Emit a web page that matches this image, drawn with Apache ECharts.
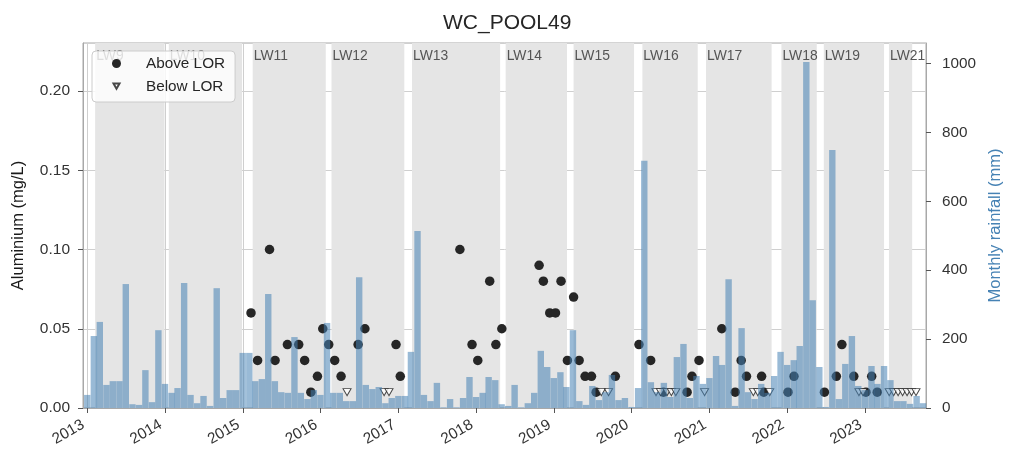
<!DOCTYPE html>
<html>
<head>
<meta charset="utf-8">
<script src="https://cdn.jsdelivr.net/npm/echarts@6/dist/echarts.min.js"></script>
<style>
  html, body { margin: 0; padding: 0; background: #ffffff; }
  #chart { width: 1026px; height: 454px; }
</style>
</head>
<body>
<div id="chart"></div>
<script>
// Monthly rainfall (mm), one value per month starting December 2012; each bar sits on its month's last day
const firstRainMonth = [2012, 12];
const rainfall = [
  38,
  209, 250, 67, 78, 78, 360, 11, 9, 110, 17, 226, 70,      // 2013
  44, 58, 363, 38, 14, 35, 6, 348, 29, 52, 52, 160,        // 2014
  160, 78, 84, 331, 78, 46, 44, 206, 44, 26, 52, 38,       // 2015
  247, 44, 44, 20, 20, 380, 67, 55, 61, 14, 29, 35,        // 2016
  35, 163, 514, 38, 20, 73, 2, 26, 2, 29, 90, 32,          // 2017
  44, 90, 81, 11, 6, 67, 2, 14, 44, 166, 119, 87,          // 2018
  104, 61, 226, 20, 9, 64, 23, 46, 96, 23, 29, 3,          // 2019
  58, 718, 75, 46, 73, 32, 148, 186, 29, 93, 70, 87,       // 2020
  151, 125, 374, 6, 232, 46, 26, 70, 44, 93, 163, 125,     // 2021
  139, 180, 1005, 313, 119, 3, 749, 26, 128, 209, 64, 52,  // 2022
  122, 70, 122, 81, 20, 20, 12, 35, 14                     // 2023
];

// Aluminium samples above the limit of reporting: [sample date, mg/L]
const aboveLOR = [
  ['2015-02-08', 0.06], ['2015-03-11', 0.03], ['2015-05-06', 0.10], ['2015-06-01', 0.03],
  ['2015-07-29', 0.04], ['2015-09-20', 0.04], ['2015-10-18', 0.03], ['2015-11-16', 0.01],
  ['2015-12-17', 0.02], ['2016-01-11', 0.05], ['2016-02-08', 0.04], ['2016-03-07', 0.03],
  ['2016-04-06', 0.02], ['2016-06-25', 0.04], ['2016-07-27', 0.05], ['2016-12-20', 0.04],
  ['2017-01-09', 0.02], ['2017-10-16', 0.10], ['2017-12-12', 0.04], ['2018-01-08', 0.03],
  ['2018-03-05', 0.08], ['2018-04-03', 0.04], ['2018-05-01', 0.05], ['2018-10-23', 0.09],
  ['2018-11-12', 0.08], ['2018-12-12', 0.06], ['2019-01-08', 0.06], ['2019-02-03', 0.08],
  ['2019-03-05', 0.03], ['2019-04-03', 0.07], ['2019-04-29', 0.03], ['2019-05-27', 0.02],
  ['2019-06-26', 0.02], ['2019-07-18', 0.01], ['2019-10-16', 0.02], ['2020-02-04', 0.04],
  ['2020-03-30', 0.03], ['2020-05-29', 0.01], ['2020-09-17', 0.01], ['2020-10-10', 0.02],
  ['2020-11-12', 0.03], ['2021-02-27', 0.05], ['2021-05-01', 0.01], ['2021-05-29', 0.03],
  ['2021-06-23', 0.02], ['2021-09-02', 0.02], ['2021-09-12', 0.01], ['2022-01-04', 0.01],
  ['2022-02-01', 0.02], ['2022-06-24', 0.01], ['2022-08-19', 0.02], ['2022-09-14', 0.04],
  ['2022-11-09', 0.02], ['2023-01-05', 0.01], ['2023-02-01', 0.02], ['2023-02-27', 0.01]
];

// Samples below the limit of reporting, plotted at the LOR: [sample date, mg/L]
const belowLOR = [
  ['2016-05-04', 0.01], ['2016-10-25', 0.01], ['2016-11-17', 0.01], ['2019-08-11', 0.01],
  ['2019-09-14', 0.01], ['2020-04-24', 0.01], ['2020-05-15', 0.01], ['2020-06-15', 0.01],
  ['2020-07-05', 0.01], ['2020-07-26', 0.01], ['2020-12-08', 0.01], ['2021-07-25', 0.01],
  ['2021-08-15', 0.01], ['2021-10-10', 0.01], ['2022-12-03', 0.01], ['2022-12-22', 0.01],
  ['2023-04-24', 0.01], ['2023-05-15', 0.01], ['2023-06-05', 0.01], ['2023-06-26', 0.01],
  ['2023-07-17', 0.01], ['2023-08-07', 0.01], ['2023-08-28', 0.01]
];

// Longwall extraction periods
const longwallNames  = ['LW9', 'LW10', 'LW11', 'LW12', 'LW13', 'LW14', 'LW15', 'LW16', 'LW17', 'LW18', 'LW19', 'LW21'];
const longwallStarts = ['2013-02-06', '2014-01-18', '2015-02-16', '2016-02-21', '2017-03-05', '2018-05-19',
                        '2019-04-03', '2020-02-20', '2020-12-15', '2021-12-04', '2022-06-21', '2023-04-23'];
const longwallEnds   = ['2013-12-29', '2014-12-28', '2016-01-25', '2017-01-28', '2018-04-23', '2019-03-03',
                        '2020-01-12', '2020-11-06', '2021-10-19', '2022-05-19', '2023-03-31', '2023-08-10'];

// Axis ranges and ticks
const xStart = '2012-12-26';
const xEnd = '2023-09-29';
const alMax = 0.2303, alStep = 0.05;
const rainMax = 1060, rainStep = 200;

const FONT = '"Liberation Sans", Arial, Helvetica, sans-serif';
const DAY = 24 * 3600 * 1000;

function pad(n) { return (n < 10 ? '0' : '') + n; }
function monthEnd(year, month) {
  const d = new Date(year, month, 0);
  return d.getFullYear() + '-' + pad(d.getMonth() + 1) + '-' + pad(d.getDate());
}
const rainData = rainfall.map(function (v, i) {
  const mIndex = firstRainMonth[1] - 1 + i;
  const y = firstRainMonth[0] + Math.floor(mIndex / 12);
  const m = (mIndex % 12) + 1;
  return [monthEnd(y, m), v];
});

const spanData = longwallNames.map(function (name, i) {
  return [{ name: name, xAxis: longwallStarts[i] }, { xAxis: longwallEnds[i] }];
});

const chart = echarts.init(document.getElementById('chart'), null, { renderer: 'canvas' });

chart.setOption({
  animation: false,
  backgroundColor: '#ffffff',
  textStyle: { fontFamily: FONT },
  title: {
    text: 'WC_POOL49',
    left: 438,
    top: 8,
    textStyle: { fontFamily: FONT, fontSize: 21, fontWeight: 'normal', color: '#262626' }
  },
  legend: {
    data: [
      { name: 'Above LOR', icon: 'circle' },
      // down-pointing triangle, padded by two empty sub-paths so the glyph stays small
      { name: 'Below LOR', icon: 'path://M-2,-2 L-2,-2 M0,0 L8,0 L4,7 Z M10,10 L10,10' }
    ],
    orient: 'vertical',
    left: 92,
    top: 51,
    padding: [5, 10, 8, 19],
    itemGap: 8,
    itemWidth: 9,
    itemHeight: 9,
    backgroundColor: 'rgba(255,255,255,0.8)',
    borderColor: '#cccccc',
    borderWidth: 1,
    borderRadius: 4,
    textStyle: { fontFamily: FONT, fontSize: 15.3, color: '#262626', padding: [0, 0, 0, 20] }
  },
  grid: {
    left: 83, right: 100, top: 43, bottom: 46,
    show: true, borderColor: '#a8a8a8', borderWidth: 1, backgroundColor: 'transparent'
  },
  xAxis: {
    type: 'time',
    min: xStart,
    max: xEnd,
    z: 1,
    minInterval: 365 * DAY,
    maxInterval: 366 * DAY,
    axisLine: { show: true, lineStyle: { color: '#a8a8a8' } },
    axisTick: { show: true, length: 5, lineStyle: { color: '#555555' } },
    axisLabel: {
      rotate: 30,
      margin: 13,
      padding: [0, 5, 0, 0],
      fontSize: 15.3,
      color: '#333333',
      fontFamily: FONT,
      showMinLabel: false,
      showMaxLabel: false,
      formatter: function (val) { return String(new Date(val).getFullYear()); }
    },
    splitLine: { show: true, lineStyle: { color: '#cfcfcf', width: 1 } }
  },
  yAxis: [
    {
      type: 'value',
      position: 'left',
      min: 0,
      max: alMax,
      interval: alStep,
      z: 1,
      name: 'Aluminium (mg/L)',
      nameLocation: 'middle',
      nameGap: 56,
      nameRotate: 90,
      nameTextStyle: { fontFamily: FONT, fontSize: 16.5, color: '#1a1a1a' },
      axisLine: { show: true, lineStyle: { color: '#a8a8a8' } },
      axisTick: { show: true, length: 5, lineStyle: { color: '#555555' } },
      axisLabel: {
        fontSize: 15.5, color: '#333333', fontFamily: FONT, margin: 13, showMaxLabel: false,
        formatter: function (v) { return v.toFixed(2); }
      },
      splitLine: { show: true, lineStyle: { color: '#cfcfcf', width: 1 } }
    },
    {
      type: 'value',
      position: 'right',
      min: 0,
      max: rainMax,
      interval: rainStep,
      z: 1,
      name: 'Monthly rainfall (mm)',
      nameLocation: 'middle',
      nameGap: 61,
      nameRotate: 90,
      nameTextStyle: { fontFamily: FONT, fontSize: 16.5, color: '#4682b4' },
      axisLine: { show: true, lineStyle: { color: '#a8a8a8' } },
      axisTick: { show: true, length: 5, lineStyle: { color: '#555555' } },
      axisLabel: {
        fontSize: 15.3, color: '#333333', fontFamily: FONT, margin: 16, showMaxLabel: false,
        formatter: function (v) { return String(v); }
      },
      splitLine: { show: false }
    }
  ],
  series: [
    {
      name: 'Longwalls',
      type: 'scatter',
      data: [],
      z: 0,
      silent: true,
      markArea: {
        silent: true,
        itemStyle: { color: '#e5e5e5' },
        label: {
          show: true,
          position: 'insideTopLeft',
          distance: 5,
          offset: [-4, 1],
          color: '#555555',
          fontSize: 13.9,
          fontFamily: FONT
        },
        data: spanData
      }
    },
    {
      name: 'Above LOR',
      type: 'scatter',
      yAxisIndex: 0,
      z: 2,
      symbol: 'circle',
      symbolSize: 9.5,
      itemStyle: { color: '#262626', opacity: 1 },
      data: aboveLOR
    },
    {
      name: 'Below LOR',
      type: 'scatter',
      yAxisIndex: 0,
      z: 2,
      symbol: 'triangle',
      symbolRotate: 180,
      symbolSize: [8, 7],
      itemStyle: { color: '#ffffff', borderColor: '#1a1a1a', borderWidth: 1 },
      data: belowLOR
    },
    {
      name: 'Monthly rainfall',
      type: 'bar',
      yAxisIndex: 1,
      z: 3,
      barWidth: 6.4,
      itemStyle: { color: 'rgba(70,130,180,0.55)' },
      data: rainData
    }
  ]
});
</script>
</body>
</html>
